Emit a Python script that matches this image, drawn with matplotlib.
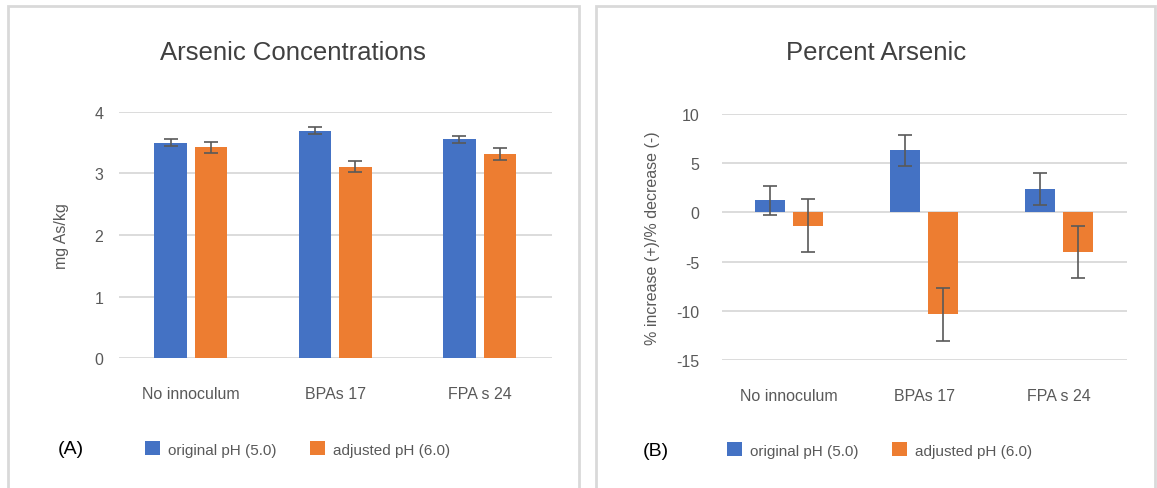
import numpy as np
import matplotlib.pyplot as plt
from matplotlib.patches import Rectangle

# ------------------------------------------------------------------ #
# Data
# ------------------------------------------------------------------ #
groups = ["No innoculum", "BPAs 17", "FPA s 24"]
series = ["original pH (5.0)", "adjusted pH (6.0)"]

conc_orig = [3.50, 3.69, 3.55]
conc_orig_err = [0.054, 0.054, 0.054]
conc_adj = [3.42, 3.11, 3.31]
conc_adj_err = [0.095, 0.095, 0.095]

pct_orig = [1.22, 6.30, 2.38]
pct_orig_err = [1.50, 1.58, 1.58]
pct_adj = [-1.35, -10.37, -4.00]
pct_adj_err = [2.69, 2.66, 2.66]

BLUE = "#4472C4"
ORANGE = "#ED7D31"
GRID = "#D9D9D9"
TXT = "#595959"

plt.rcParams["font.family"] = ["Liberation Sans", "DejaVu Sans"]
plt.rcParams["axes.unicode_minus"] = False

W, H = 1157, 489
fig = plt.figure(figsize=(W / 100, H / 100), dpi=100)


def px_axes(x0, y_top, x1, y_bot):
    return fig.add_axes([x0 / W, 1 - y_bot / H, (x1 - x0) / W, (y_bot - y_top) / H])


def panel_box(x0, x1):
    fig.patches.append(
        Rectangle((x0 / W, -0.05), (x1 - x0) / W, 1 - 7 / H + 0.05,
                  transform=fig.transFigure, fill=False, edgecolor=GRID, lw=2)
    )


def draw_bars(ax, orig, orig_err, adj, adj_err, ylim, ticks, ypad):
    x = np.arange(len(groups))
    w = 0.225
    off = 0.14
    ekw = dict(ecolor="#595959", elinewidth=1.2, capsize=5, capthick=1.2)
    ax.bar(x - off, orig, w, yerr=orig_err, color=BLUE, label=series[0],
           error_kw=ekw, zorder=3)
    ax.bar(x + off, adj, w, yerr=adj_err, color=ORANGE, label=series[1],
           error_kw=ekw, zorder=3)
    ax.set_xlim(-0.5, len(groups) - 0.5)
    ax.set_ylim(*ylim)
    ax.set_yticks(ticks)
    ax.set_xticks(x)
    ax.set_xticklabels(groups)
    ax.grid(axis="y", color=GRID, lw=1.3, zorder=0)
    ax.set_axisbelow(True)
    for s in ax.spines.values():
        s.set_visible(False)
    ax.tick_params(length=0, colors=TXT, labelsize=11.5)
    ax.tick_params(axis="x", pad=20)
    ax.tick_params(axis="y", pad=ypad)


# ------------------------------------------------------------------ #
# (A) Arsenic concentrations
# ------------------------------------------------------------------ #
panel_box(8, 579)
ax1 = px_axes(118.7, 112.7, 551.7, 359.1)
draw_bars(ax1, conc_orig, conc_orig_err, conc_adj, conc_adj_err, (0, 4), range(0, 5), 11)
ax1.set_ylabel("mg As/kg", color=TXT, fontsize=11.5, labelpad=18)
fig.text(293 / W, 1 - 53 / H, "Arsenic Concentrations", ha="center", va="center",
         fontsize=18.5, color="#404040")
fig.text(71 / W, 1 - 450 / H, "(A)", ha="center", va="center", fontsize=14, color="black")
ax1.legend(loc="center left", bbox_to_anchor=(145 / W, 1 - 450 / H),
           bbox_transform=fig.transFigure, ncol=2, frameon=False, fontsize=11,
           labelcolor=TXT, handlelength=1.0, handleheight=1.0, handletextpad=0.5,
           columnspacing=2.2, borderaxespad=0, borderpad=0)

# ------------------------------------------------------------------ #
# (B) Percent arsenic
# ------------------------------------------------------------------ #
panel_box(596, 1155)
ax2 = px_axes(721.7, 115, 1126.7, 361)
draw_bars(ax2, pct_orig, pct_orig_err, pct_adj, pct_adj_err, (-15, 10),
          range(-15, 11, 5), 16)
ax2.set_ylabel("% increase (+)/% decrease (-)", color=TXT, fontsize=11.5, labelpad=12)
fig.text(876 / W, 1 - 53 / H, "Percent Arsenic", ha="center", va="center",
         fontsize=18.5, color="#404040")
fig.text(656 / W, 1 - 452 / H, "(B)", ha="center", va="center", fontsize=14, color="black")
ax2.legend(loc="center left", bbox_to_anchor=(727 / W, 1 - 451 / H),
           bbox_transform=fig.transFigure, ncol=2, frameon=False, fontsize=11,
           labelcolor=TXT, handlelength=1.0, handleheight=1.0, handletextpad=0.5,
           columnspacing=2.2, borderaxespad=0, borderpad=0)

fig.savefig("out.png", dpi=100, facecolor="white")
